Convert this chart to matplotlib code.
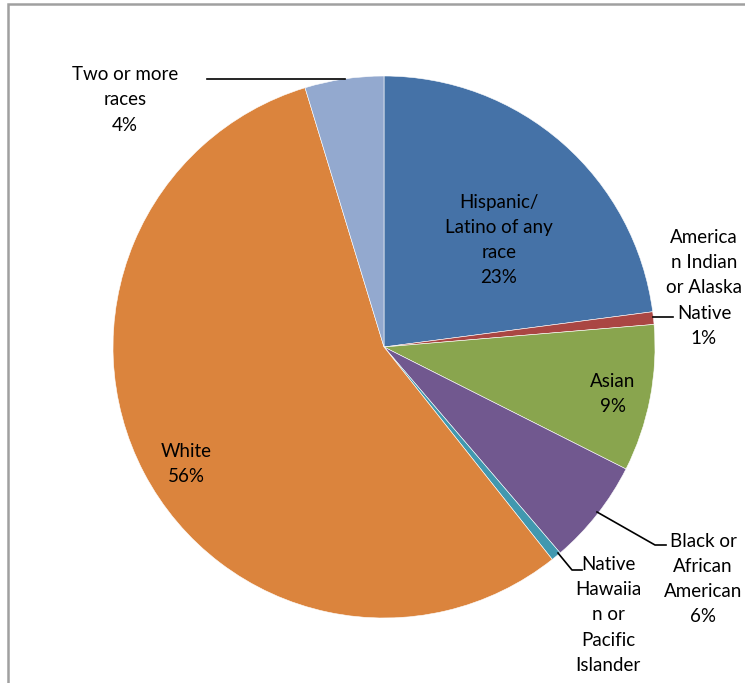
import matplotlib.pyplot as plt
from matplotlib.patches import Rectangle

labels = ['Hispanic/\nLatino of any\nrace\n23%',
          'America\nn Indian\nor Alaska\nNative\n1%',
          'Asian\n9%',
          'Black or\nAfrican\nAmerican\n6%',
          'Native\nHawaiia\nn or\nPacific\nIslander',
          'White\n56%',
          'Two or more\nraces\n4%']
values = [22.9, 0.75, 8.75, 6.3, 0.6, 55.9, 4.7]
colors = ['#4572A7', '#AA4643', '#89A54E', '#71588F', '#4198AF', '#DB843D', '#93A9CF']

W, H = 745, 683
cx, cy, r = 384, 347, 271


def px(x, y):
    # pixel position -> data coords (pie radius = 1)
    return (x - cx) / r, (cy - y) / r


fig = plt.figure(figsize=(W / 100, H / 100), dpi=100)
ax = fig.add_axes([0, 0, 1, 1])
ax.axis('off')

ax.pie(values, colors=colors, startangle=90, counterclock=False, radius=1,
       wedgeprops=dict(edgecolor='white', linewidth=0.4))
ax.set_aspect('equal')
ax.set_xlim(-cx / r, (W - cx) / r)
ax.set_ylim(-(H - cy) / r, cy / r)

# frame of the chart area
fig.patches.append(Rectangle((8 / W, -0.1), 1.2, (H - 4) / H + 0.1,
                             transform=fig.transFigure, fill=False,
                             edgecolor='#a0a0a0', linewidth=1.8))

label_pos = [(499, 240), (704, 288), (613, 394), (703, 579),
             (608, 615), (186, 464), (125, 100)]
for lab, (x, y) in zip(labels, label_pos):
    ax.text(*px(x, y), lab, ha='center', va='center', fontsize=13.5,
            family='Lato', linespacing=1.58, color='black')

# leader lines
leaders = [
    [(207, 79), (345, 79)],
    [(653, 317), (673, 317)],
    [(597, 512), (655, 545), (666, 545)],
    [(558, 553), (572, 570), (582, 570)],
]
for pts in leaders:
    xs, ys = zip(*[px(x, y) for x, y in pts])
    ax.plot(xs, ys, color='black', lw=1.2)

plt.savefig('out.png', dpi=100)
